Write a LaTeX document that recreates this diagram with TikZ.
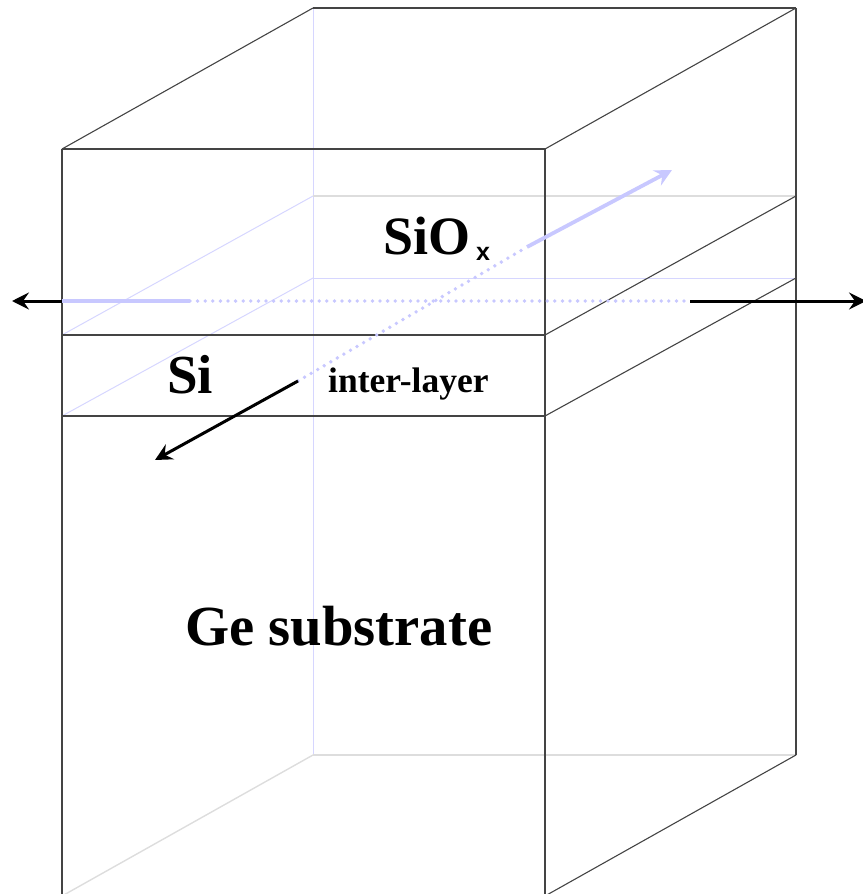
\documentclass[tikz,border=0pt]{standalone}
\usepackage{fontspec}
\setmainfont{Liberation Serif}
\newfontfamily\subfont{Liberation Sans}
\usetikzlibrary{arrows.meta}
\definecolor{edgedark}{HTML}{444444}
\definecolor{edgeblue}{HTML}{D6D6FF}
\definecolor{edgegray}{HTML}{DDDDDD}
\definecolor{beamblue}{HTML}{C8C8FF}
\tikzset{
  frontedge/.style={draw=edgedark, line width=1.1pt},
  backblue/.style={draw=edgeblue, line width=1pt},
  backgray/.style={draw=edgegray, line width=1.4pt},
  beamout/.style={draw=black, line width=3pt, -{Stealth[length=17pt,width=17pt,inset=6pt]}},
  beamfaint/.style={draw=beamblue, line width=3.8pt},
  beamdot/.style={draw=beamblue, line width=3.8pt, line cap=round, dash pattern=on 0pt off 7.6pt},
  label/.style={inner sep=0pt, anchor=base west, font=\bfseries}
}
\begin{document}
\begin{tikzpicture}[x=1pt,y=-1pt]
\useasboundingbox (0,0) rectangle (862,894);
% corners of the box
\coordinate (ftl) at (62,149);
\coordinate (ftr) at (545,149);
\coordinate (fbl) at (62,896);
\coordinate (fbr) at (545,896);
\coordinate (btl) at (313,8);
\coordinate (btr) at (796,8);
\coordinate (bbl) at (313,755);
\coordinate (bbr) at (796,755);
% layer boundaries
\coordinate (foxl) at (62,335);
\coordinate (foxr) at (545,335);
\coordinate (fsil) at (62,416);
\coordinate (fsir) at (545,416);
\coordinate (boxl) at (313,196);
\coordinate (boxr) at (796,196);
\coordinate (bsil) at (313,278);
\coordinate (bsir) at (796,278);
% hidden edges
\draw[backblue] (btl) -- (bbl);
\draw[backblue] (boxl) -- (foxl);
\draw[backblue] (bsil) -- (fsil);
\draw[backblue] (bsil) -- (bsir);
\draw[backgray] (boxl) -- (boxr);
\draw[backgray] (bbl) -- (bbr);
\draw[backgray] (bbl) -- (fbl);
% visible edges
\draw[frontedge] (ftl) -- (ftr);
\draw[frontedge] (foxl) -- (foxr);
\draw[frontedge] (fsil) -- (fsir);
\draw[frontedge] (ftl) -- (fbl);
\draw[frontedge] (ftr) -- (fbr);
\draw[frontedge] (btl) -- (btr);
\draw[frontedge] (btr) -- (bbr);
\draw[frontedge] (ftl) -- (btl);
\draw[frontedge] (ftr) -- (btr);
\draw[frontedge] (foxr) -- (boxr);
\draw[frontedge] (fsir) -- (bsir);
\draw[frontedge] (fbr) -- (bbr);
% beams
\coordinate (hleft) at (62,301);
\coordinate (hleftend) at (12,301);
\coordinate (hfade) at (190,301);
\coordinate (hdark) at (690,301);
\coordinate (hright) at (866,301);
\coordinate (dfront) at (298,381);
\coordinate (dfrontend) at (155,460);
\coordinate (dfade) at (527,247);
\coordinate (dback) at (672,170);
\draw[beamdot] (hfade) -- (hdark);
\draw[beamdot] (dfront) -- (dfade);
\draw[beamfaint] (hleft) -- (hfade);
\draw[beamfaint, -{Stealth[length=17pt,width=17pt,inset=6pt]}] (dfade) -- (dback);
\draw[beamout] (hleft) -- (hleftend);
\draw[beamout] (hdark) -- (hright);
\draw[beamout] (dfront) -- (dfrontend);
% labels
\node[label, font=\bfseries\fontsize{54}{54}\selectfont] (siox) at (383,254) {SiO};
\node[label, font=\subfont\bfseries\fontsize{25}{25}\selectfont] (sub) at (476,260) {x};
\node[label, font=\bfseries\fontsize{55}{55}\selectfont] (si) at (167,393) {Si};
\node[label, font=\bfseries\fontsize{35.5}{35.5}\selectfont] (inter) at (328,392) {inter-layer};
\node[label, font=\bfseries\fontsize{56.7}{56.7}\selectfont] (ge) at (185,645) {Ge substrate};
\end{tikzpicture}
\end{document}
